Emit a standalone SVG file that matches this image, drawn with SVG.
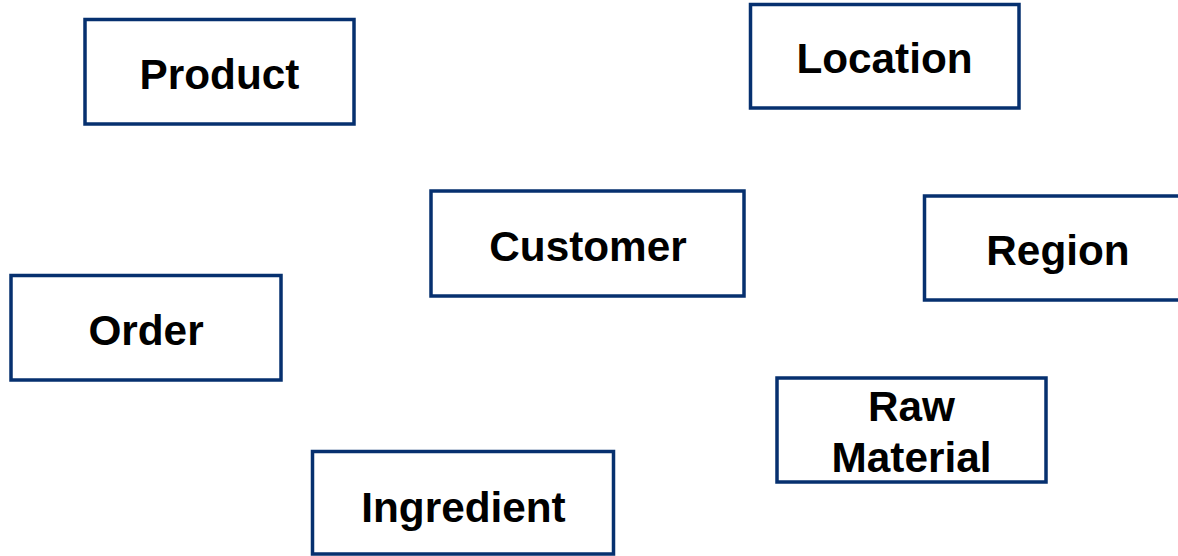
<svg xmlns="http://www.w3.org/2000/svg" width="1178" height="556" viewBox="0 0 1178 556">
  <style>
    .box { fill: #ffffff; stroke: #06306f; stroke-width: 3.5; }
    .label { font-family: "Liberation Sans", Arial, sans-serif; font-weight: bold; font-size: 42.3px; fill: #000000; text-anchor: middle; }
  </style>
  <rect x="0" y="0" width="1178" height="556" fill="#ffffff"/>
  <g id="node-product">
    <rect class="box" x="85" y="19.5" width="269" height="104.5"/>
    <text class="label" x="219.5" y="89">Product</text>
  </g>
  <g id="node-location">
    <rect class="box" x="750.5" y="4.5" width="268.5" height="103.5"/>
    <text class="label" x="884.5" y="73">Location</text>
  </g>
  <g id="node-customer">
    <rect class="box" x="431" y="191" width="313" height="105"/>
    <text class="label" x="588" y="261">Customer</text>
  </g>
  <g id="node-region">
    <rect class="box" x="924.5" y="196" width="268" height="104"/>
    <text class="label" x="1058" y="265">Region</text>
  </g>
  <g id="node-order">
    <rect class="box" x="11" y="275.5" width="270" height="104.5"/>
    <text class="label" x="146" y="345">Order</text>
  </g>
  <g id="node-raw-material">
    <rect class="box" x="777" y="378" width="269" height="104"/>
    <text class="label" x="911.5" y="421">Raw</text>
    <text class="label" x="911.5" y="472">Material</text>
  </g>
  <g id="node-ingredient">
    <rect class="box" x="312.5" y="451.5" width="301" height="102.5"/>
    <text class="label" x="463.5" y="522">Ingredient</text>
  </g>
  <g id="connectors"></g>
</svg>
